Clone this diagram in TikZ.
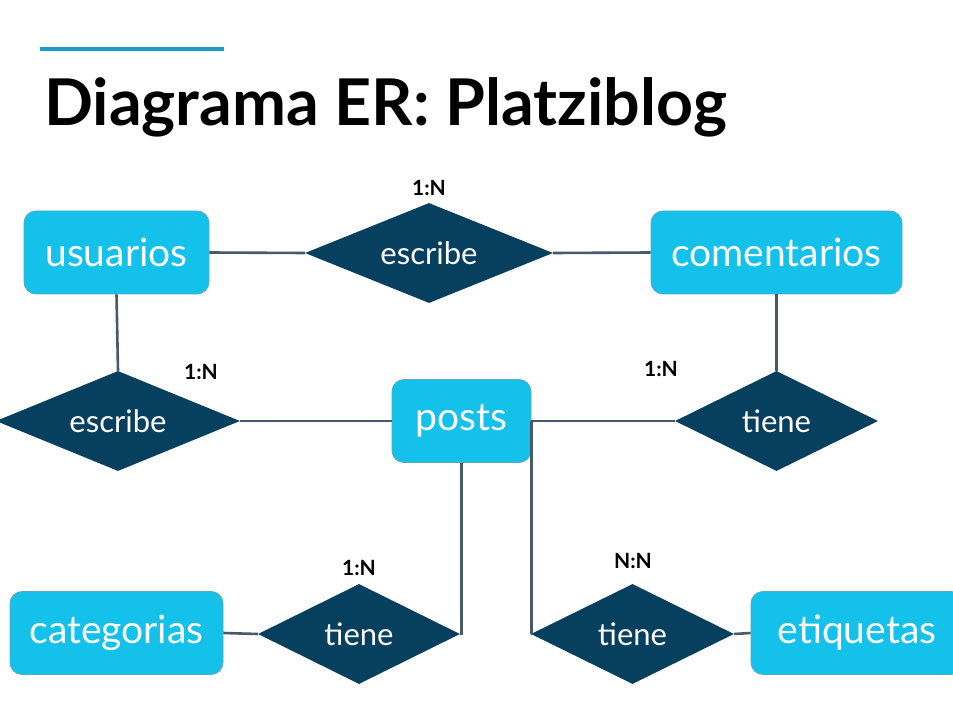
\documentclass[tikz,border=0pt]{standalone}
\usepackage{fontspec}
\setmainfont{Lato}
\usetikzlibrary{shapes.geometric}
\definecolor{entcyan}{HTML}{13C1EA}
\definecolor{entedge}{HTML}{5AA8C0}
\definecolor{reldark}{HTML}{07405F}
\definecolor{linkgray}{HTML}{47596A}
\definecolor{topbar}{HTML}{1E9BC9}
\newcommand{\reltext}[1]{\makebox[0pt][c]{#1}}
\tikzset{
  entity/.style={rectangle, rounded corners=12pt, fill=entcyan, draw=entedge, line width=0.8pt,
    text=white, font=\fontsize{39}{44}\selectfont, inner sep=0pt, minimum height=83pt},
  relation/.style={diamond, fill=reldark, text=white, font=\fontsize{31}{36}\selectfont,
    inner sep=0pt, minimum height=100pt},
  card/.style={font=\bfseries\fontsize{21}{24}\selectfont, text=black, inner sep=0pt},
  link/.style={draw=linkgray, line width=2.6pt},
}
\begin{document}
\begin{tikzpicture}[x=1pt,y=-1pt]
\useasboundingbox[fill=white] (0,0) rectangle (953,708);
\coordinate (barL) at (40,49);
\coordinate (barR) at (224,49);
\draw[topbar, line width=4pt] (barL) -- (barR);
\node[anchor=base west, inner sep=0pt, font=\bfseries\fontsize{64.5}{72}\selectfont] (title) at (44,126) {Diagrama ER: Platziblog};

% entities
\node[entity, minimum width=185pt] (usuarios) at (116.5,252.5) {usuarios};
\node[entity, minimum width=251pt] (comentarios) at (776.5,252.5) {comentarios};
\node[entity, minimum width=139pt] (posts) at (461.5,421) {posts};
\node[entity, minimum width=213pt] (categorias) at (116.5,633) {categorias};
\node[entity, minimum width=212pt] (etiquetas) at (857,633) {etiquetas};

% relations
\node[relation, minimum width=248pt] (r1) at (429,253) {\reltext{escribe}};
\node[relation, minimum width=244pt] (r2) at (118,421) {\reltext{escribe}};
\node[relation, minimum width=203pt] (r3) at (776.5,421) {\reltext{tiene}};
\node[relation, minimum width=202pt] (r4) at (359,634) {\reltext{tiene}};
\node[relation, minimum width=203pt] (r5) at (632.5,634) {\reltext{tiene}};

% cardinalities
\node[card] (c1) at (429,188) {1:N};
\node[card] (c2) at (201,372) {1:N};
\node[card] (c3) at (661,369) {1:N};
\node[card] (c4) at (359,568) {1:N};
\node[card] (c5) at (633,561) {N:N};

% connectors
\draw[link] (usuarios.east) -- (r1.west);
\draw[link] (r1.east) -- (comentarios.west);
\draw[link] (usuarios.south) -- (r2.north);
\draw[link] (r2.east) -- (posts.west);
\draw[link] (posts.east) -- (r3.west);
\draw[link] (comentarios.south) -- (r3.north);
\draw[link] (posts.south) -- (posts.south |- r4.east) -- (r4.east);
\draw[link] (posts.east) -- (posts.east |- r5.west) -- (r5.west);
\draw[link] (categorias.east) -- (r4.west);
\draw[link] (r5.east) -- (etiquetas.west);
\end{tikzpicture}
\end{document}
